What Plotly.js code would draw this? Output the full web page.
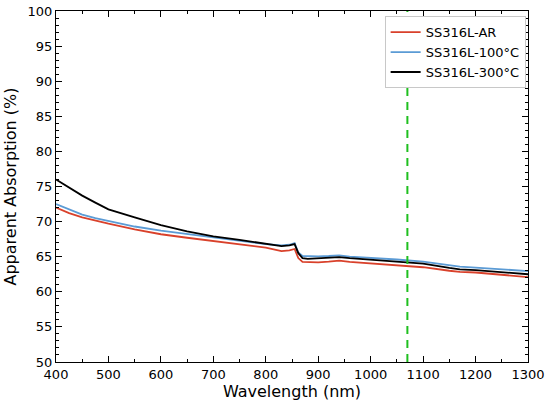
<!DOCTYPE html>
<html>
<head>
<meta charset="utf-8">
<script src="https://cdn.plot.ly/plotly-3.0.1.min.js"></script>
<style>html,body{margin:0;padding:0;background:#fff;}#chart{width:550px;height:402px;}</style>
</head>
<body>
<div id="chart"></div>
<script>
const wavelength = [400,425,450,475,500,550,600,650,700,750,800,830,845,855,862,870,880,900,920,940,960,1000,1050,1100,1150,1170,1200,1250,1300];
const absAR    = [72.0,71.2,70.6,70.1,69.7,68.9,68.2,67.7,67.2,66.7,66.3,65.8,65.9,66.1,64.8,64.25,64.2,64.2,64.3,64.45,64.25,64.05,63.8,63.5,63.0,62.85,62.75,62.45,62.1];
const abs100C  = [72.5,71.7,71.0,70.5,70.1,69.3,68.7,68.2,67.7,67.2,66.8,66.6,66.7,66.95,65.6,65.1,65.05,65.05,65.1,65.2,65.0,64.85,64.6,64.3,63.8,63.6,63.45,63.2,62.95];
const abs300C  = [76.0,74.8,73.7,72.7,71.75,70.6,69.5,68.6,67.9,67.4,66.9,66.5,66.6,66.8,65.5,64.8,64.7,64.75,64.8,64.95,64.8,64.6,64.3,64.0,63.4,63.2,63.1,62.8,62.5];
const seriesNames = ["SS316L-AR","SS316L-100°C","SS316L-300°C"];
const markerWavelength = [1070,1070];
const markerRange = [50,100];

const traces = [
  {x: wavelength, y: absAR, name: seriesNames[0], mode: 'lines', line: {color: '#d9412b', width: 1.8}},
  {x: wavelength, y: abs100C, name: seriesNames[1], mode: 'lines', line: {color: '#5b9bd5', width: 1.8}},
  {x: wavelength, y: abs300C, name: seriesNames[2], mode: 'lines', line: {color: '#000000', width: 1.8}},
  {x: markerWavelength, y: markerRange, mode: 'lines', showlegend: false, line: {color: '#1fbf1f', width: 2, dash: '8px,6px'}}
];

const font = {family: 'DejaVu Sans, sans-serif', color: '#000', size: 13};
const layout = {
  width: 550, height: 402,
  margin: {l: 56, r: 22, t: 11, b: 40},
  paper_bgcolor: '#fff', plot_bgcolor: '#fff',
  font: font,
  showlegend: true,
  legend: {x: 0.995, y: 0.985, xanchor: 'right', yanchor: 'top', bgcolor: '#fff', bordercolor: '#c8c8c8', borderwidth: 1, font: {family: 'DejaVu Sans, sans-serif', size: 13, color: '#000'}, tracegroupgap: 0},
  xaxis: {
    range: [400, 1300], dtick: 100, tick0: 400,
    ticks: 'inside', ticklen: 6, tickwidth: 1, tickcolor: '#000',
    showline: true, linecolor: '#000', linewidth: 1, mirror: 'allticks',
    showgrid: false, zeroline: false,
    minor: {dtick: 50, ticks: 'inside', ticklen: 3, tickcolor: '#000', showgrid: false},
    tickfont: {family: 'DejaVu Sans, sans-serif', size: 13, color: '#000'},
    title: {text: 'Wavelength (nm)', font: {family: 'DejaVu Sans, sans-serif', size: 16, color: '#000'}, standoff: 4}
  },
  yaxis: {
    range: [50, 100], dtick: 5, tick0: 50,
    ticks: 'inside', ticklen: 6, tickwidth: 1, tickcolor: '#000',
    showline: true, linecolor: '#000', linewidth: 1, mirror: 'allticks',
    showgrid: false, zeroline: false,
    minor: {dtick: 1, ticks: 'inside', ticklen: 3, tickcolor: '#000', showgrid: false},
    tickfont: {family: 'DejaVu Sans, sans-serif', size: 13, color: '#000'},
    title: {text: 'Apparent Absorption (%)', font: {family: 'DejaVu Sans, sans-serif', size: 16, color: '#000'}, standoff: 6}
  }
};

Plotly.newPlot('chart', traces, layout, {displayModeBar: false, staticPlot: true});
</script>
</body>
</html>
